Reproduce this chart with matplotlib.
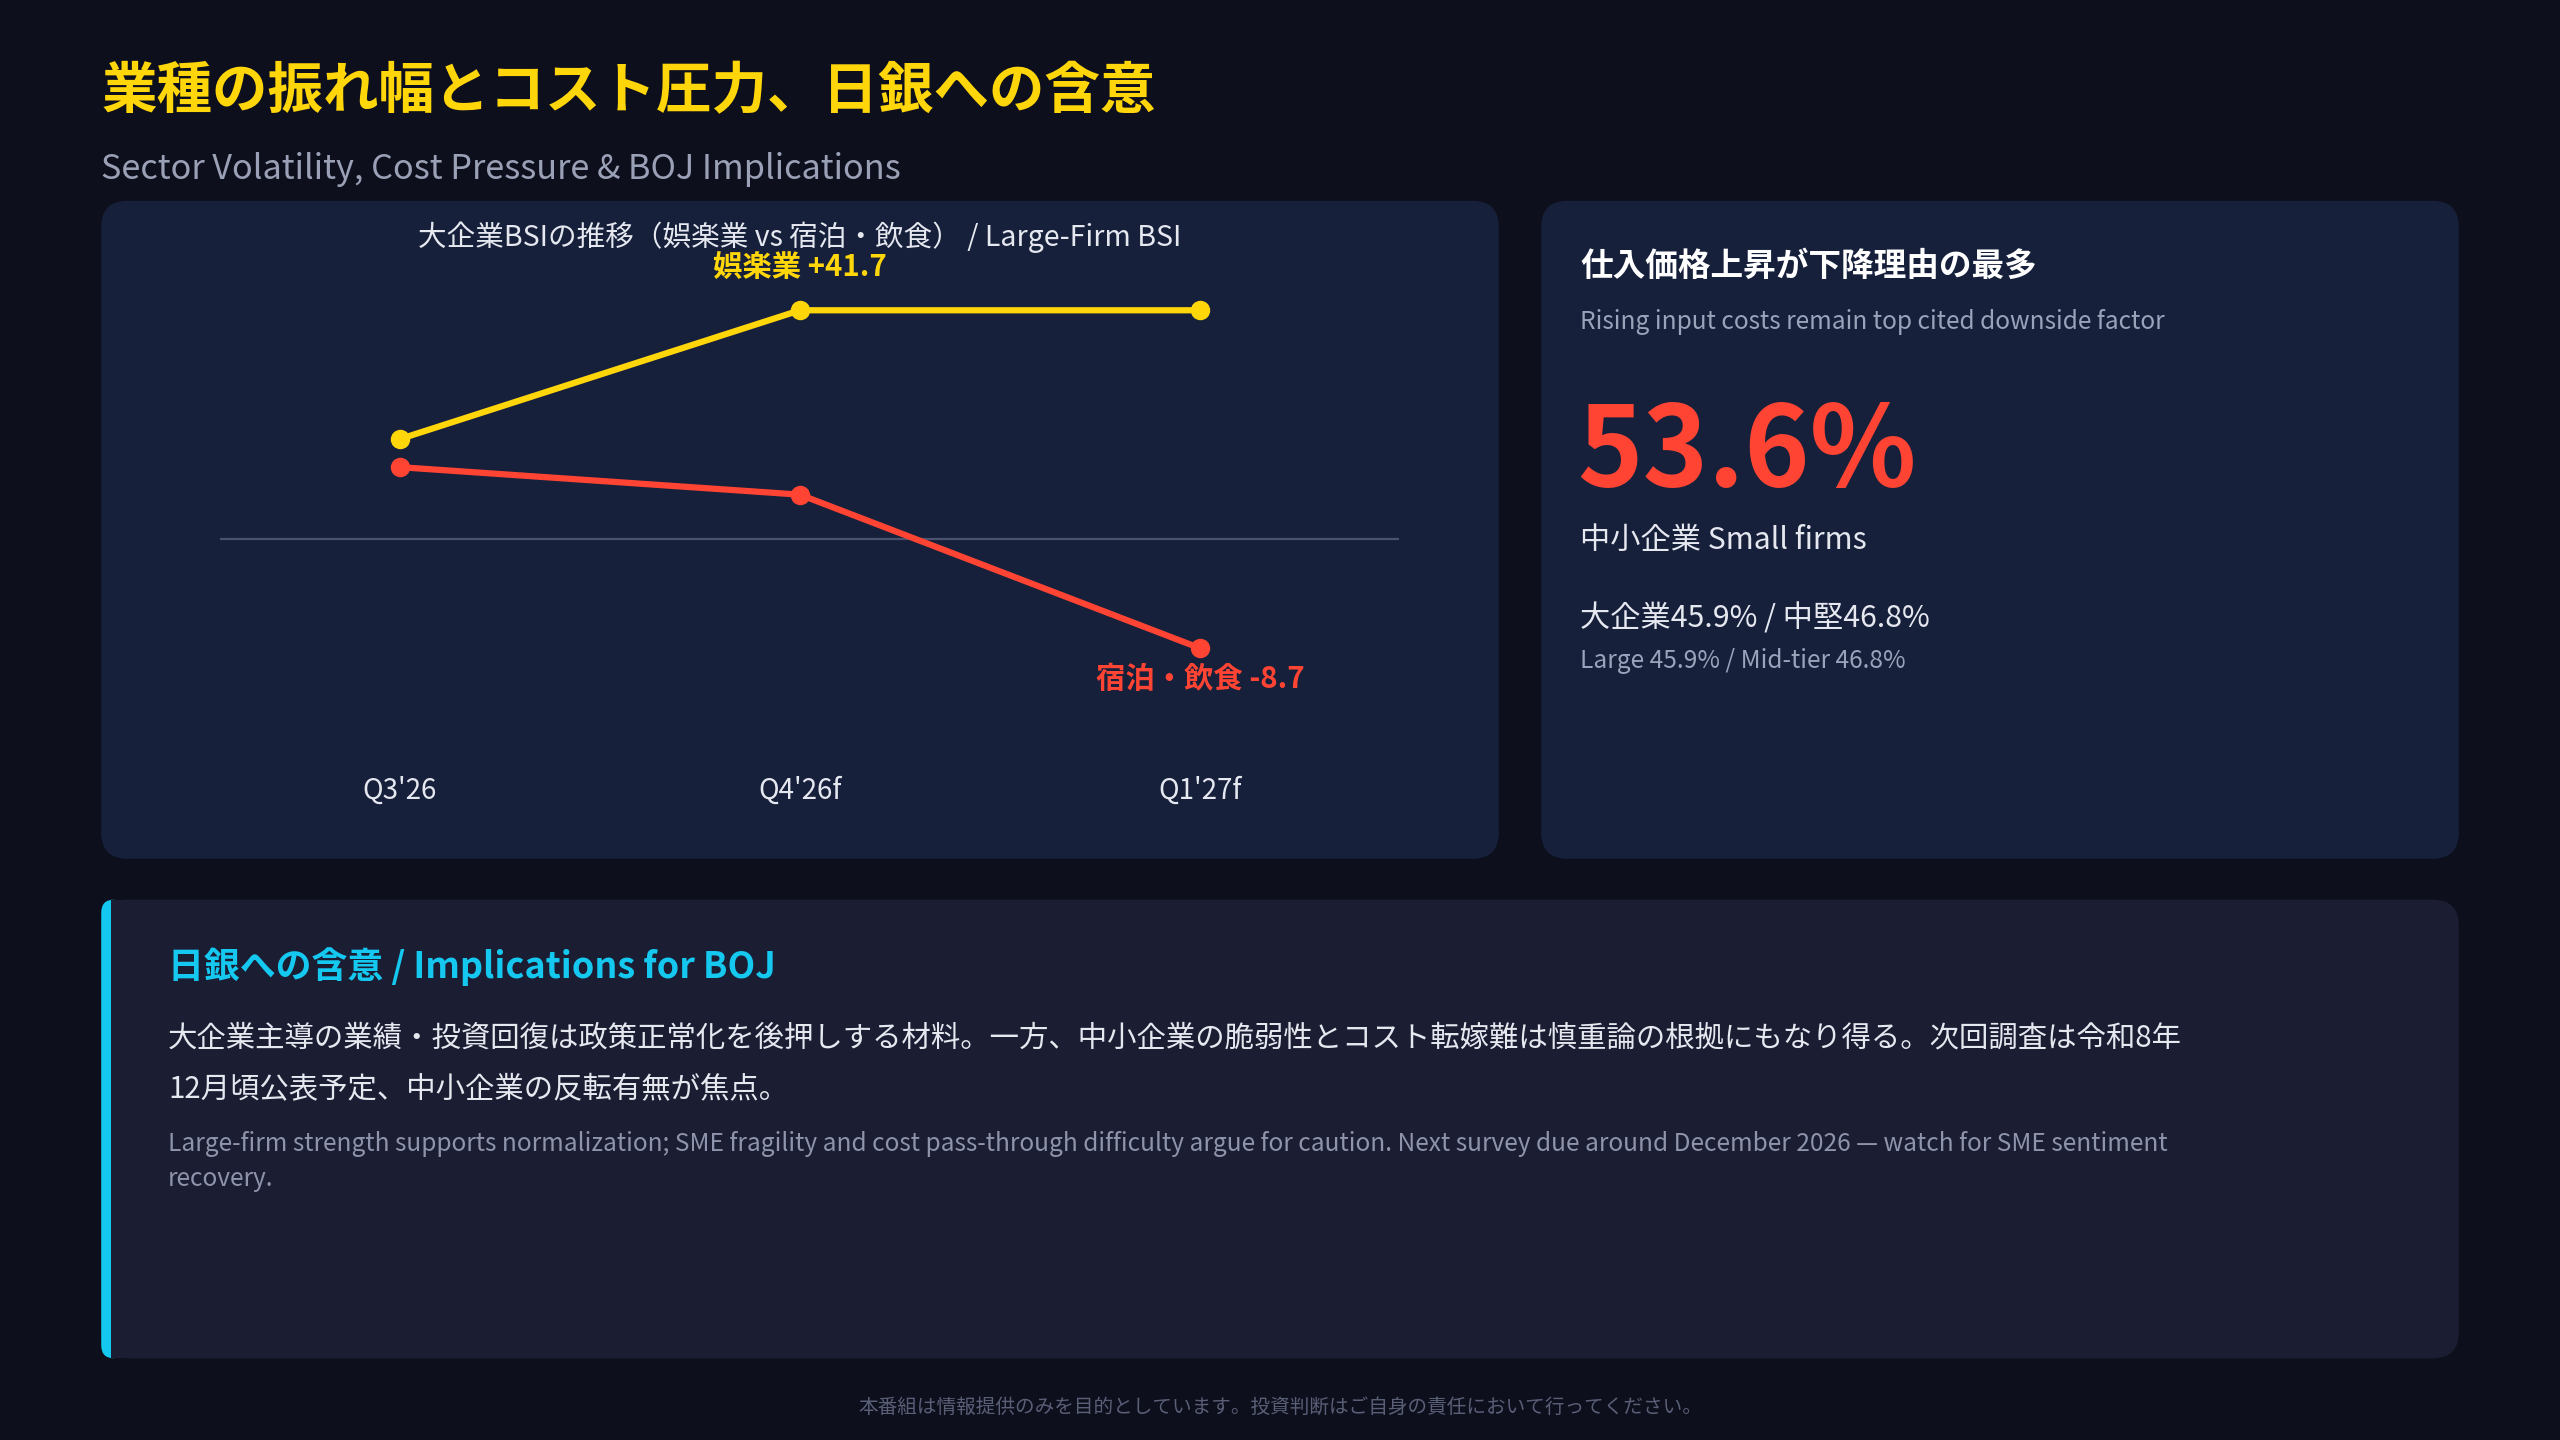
import matplotlib
matplotlib.use("Agg")
import matplotlib.pyplot as plt
from matplotlib.patches import FancyBboxPatch, Rectangle

plt.rcParams['font.family'] = ['Noto Sans CJK JP', 'DejaVu Sans']

categories = ["Q3'26", "Q4'26f", "Q1'27f"]
entertainment = [22.5, 41.7, 41.7]
lodging = [18.3, 14.2, -8.7]
ref_line = 7.6

W, H = 1568, 882
S = 1.176  # display px -> pt

fig = plt.figure(figsize=(25.6, 14.4), dpi=100)
fig.patch.set_facecolor('#0e0f1c')
bg = fig.add_axes([0, 0, 1, 1])
bg.set_xlim(0, W); bg.set_ylim(H, 0); bg.axis('off')

def panel(x0, y0, x1, y1, color):
    bg.add_patch(FancyBboxPatch((x0, y0), x1 - x0, y1 - y0,
                 boxstyle="round,pad=0,rounding_size=16", fc=color, ec='none'))

panel(62, 123, 918, 526, '#16203b')
panel(944, 123, 1506, 526, '#16203b')
panel(62, 551, 1506, 832, '#1b1d33')
bg.add_patch(FancyBboxPatch((62, 551), 14, 281, boxstyle="round,pad=0,rounding_size=8",
             fc='#14c8f0', ec='none'))
bg.add_patch(Rectangle((68, 551), 10, 281, fc='#1b1d33', ec='none'))

def t(x, y, s, size, color, weight='normal', ha='left', va='center'):
    bg.text(x, y, s, fontsize=size * S, color=color, fontweight=weight, ha=ha, va=va)

t(62, 56, "業種の振れ幅とコスト圧力、日銀への含意", 34, '#ffd60a', 'bold')
t(62, 104, "Sector Volatility, Cost Pressure & BOJ Implications", 21, '#9aa0b5')
t(490, 145, "大企業BSIの推移（娯楽業 vs 宿泊・飲食） / Large-Firm BSI", 17.5, '#e6e8f0', ha='center')

t(968, 163, "仕入価格上昇が下降理由の最多", 20, '#ffffff', 'bold')
t(968, 197, "Rising input costs remain top cited downside factor", 15, '#9aa3ba')
t(966, 278, "53.6%", 68, '#ff4433', 'bold')
t(968, 331, "中小企業 Small firms", 18.5, '#e6e8f0')
t(968, 379, "大企業45.9% / 中堅46.8%", 18.5, '#e6e8f0')
t(968, 405, "Large 45.9% / Mid-tier 46.8%", 15, '#9aa3ba')

t(103, 592, "日銀への含意 / Implications for BOJ", 22, '#14c8f0', 'bold')
t(103, 636, "大企業主導の業績・投資回復は政策正常化を後押しする材料。一方、中小企業の脆弱性とコスト転嫁難は慎重論の根拠にもなり得る。次回調査は令和8年", 18, '#e6e8f0')
t(103, 667, "12月頃公表予定、中小企業の反転有無が焦点。", 18, '#e6e8f0')
t(103, 701, "Large-firm strength supports normalization; SME fragility and cost pass-through difficulty argue for caution. Next survey due around December 2026 — watch for SME sentiment", 15, '#8e94ab')
t(103, 722, "recovery.", 15, '#8e94ab')
t(784, 862, "本番組は情報提供のみを目的としています。投資判断はご自身の責任において行ってください。", 12, '#5a5f78', ha='center')

# chart axes: display x 135..857, y 150..470
a, b = 361.3, 4.107
ax = fig.add_axes([135 / W, 1 - 470 / H, (857 - 135) / W, (470 - 150) / H])
ax.set_facecolor('none')
ax.set_xlim(-110 / 245, 612 / 245)
ax.set_ylim((a - 470) / b, (a - 150) / b)
for sp in ax.spines.values():
    sp.set_visible(False)
x = range(len(categories))
ax.axhline(ref_line, color='#4a5270', lw=1.6)
ax.plot(x, entertainment, color='#ffd60a', lw=4.5, marker='o', ms=13, zorder=3)
ax.plot(x, lodging, color='#ff4433', lw=4.5, marker='o', ms=13, zorder=3)
ax.set_yticks([])
ax.set_xticks(list(x))
ax.set_xticklabels(categories, color='#e6e8f0', fontsize=17 * S)
ax.tick_params(axis='x', length=0, pad=6)
ax.annotate(f"娯楽業 +{entertainment[1]}", (1, entertainment[1]), xytext=(0, 26 * 1.633),
            textcoords='offset pixels', ha='center', va='center', color='#ffd60a',
            fontsize=18 * S, fontweight='bold')
ax.annotate(f"宿泊・飲食 {lodging[2]}", (2, lodging[2]), xytext=(0, -19 * 1.633),
            textcoords='offset pixels', ha='center', va='center', color='#ff4433',
            fontsize=18 * S, fontweight='bold')

fig.savefig("out.png", dpi=100, facecolor=fig.get_facecolor())
